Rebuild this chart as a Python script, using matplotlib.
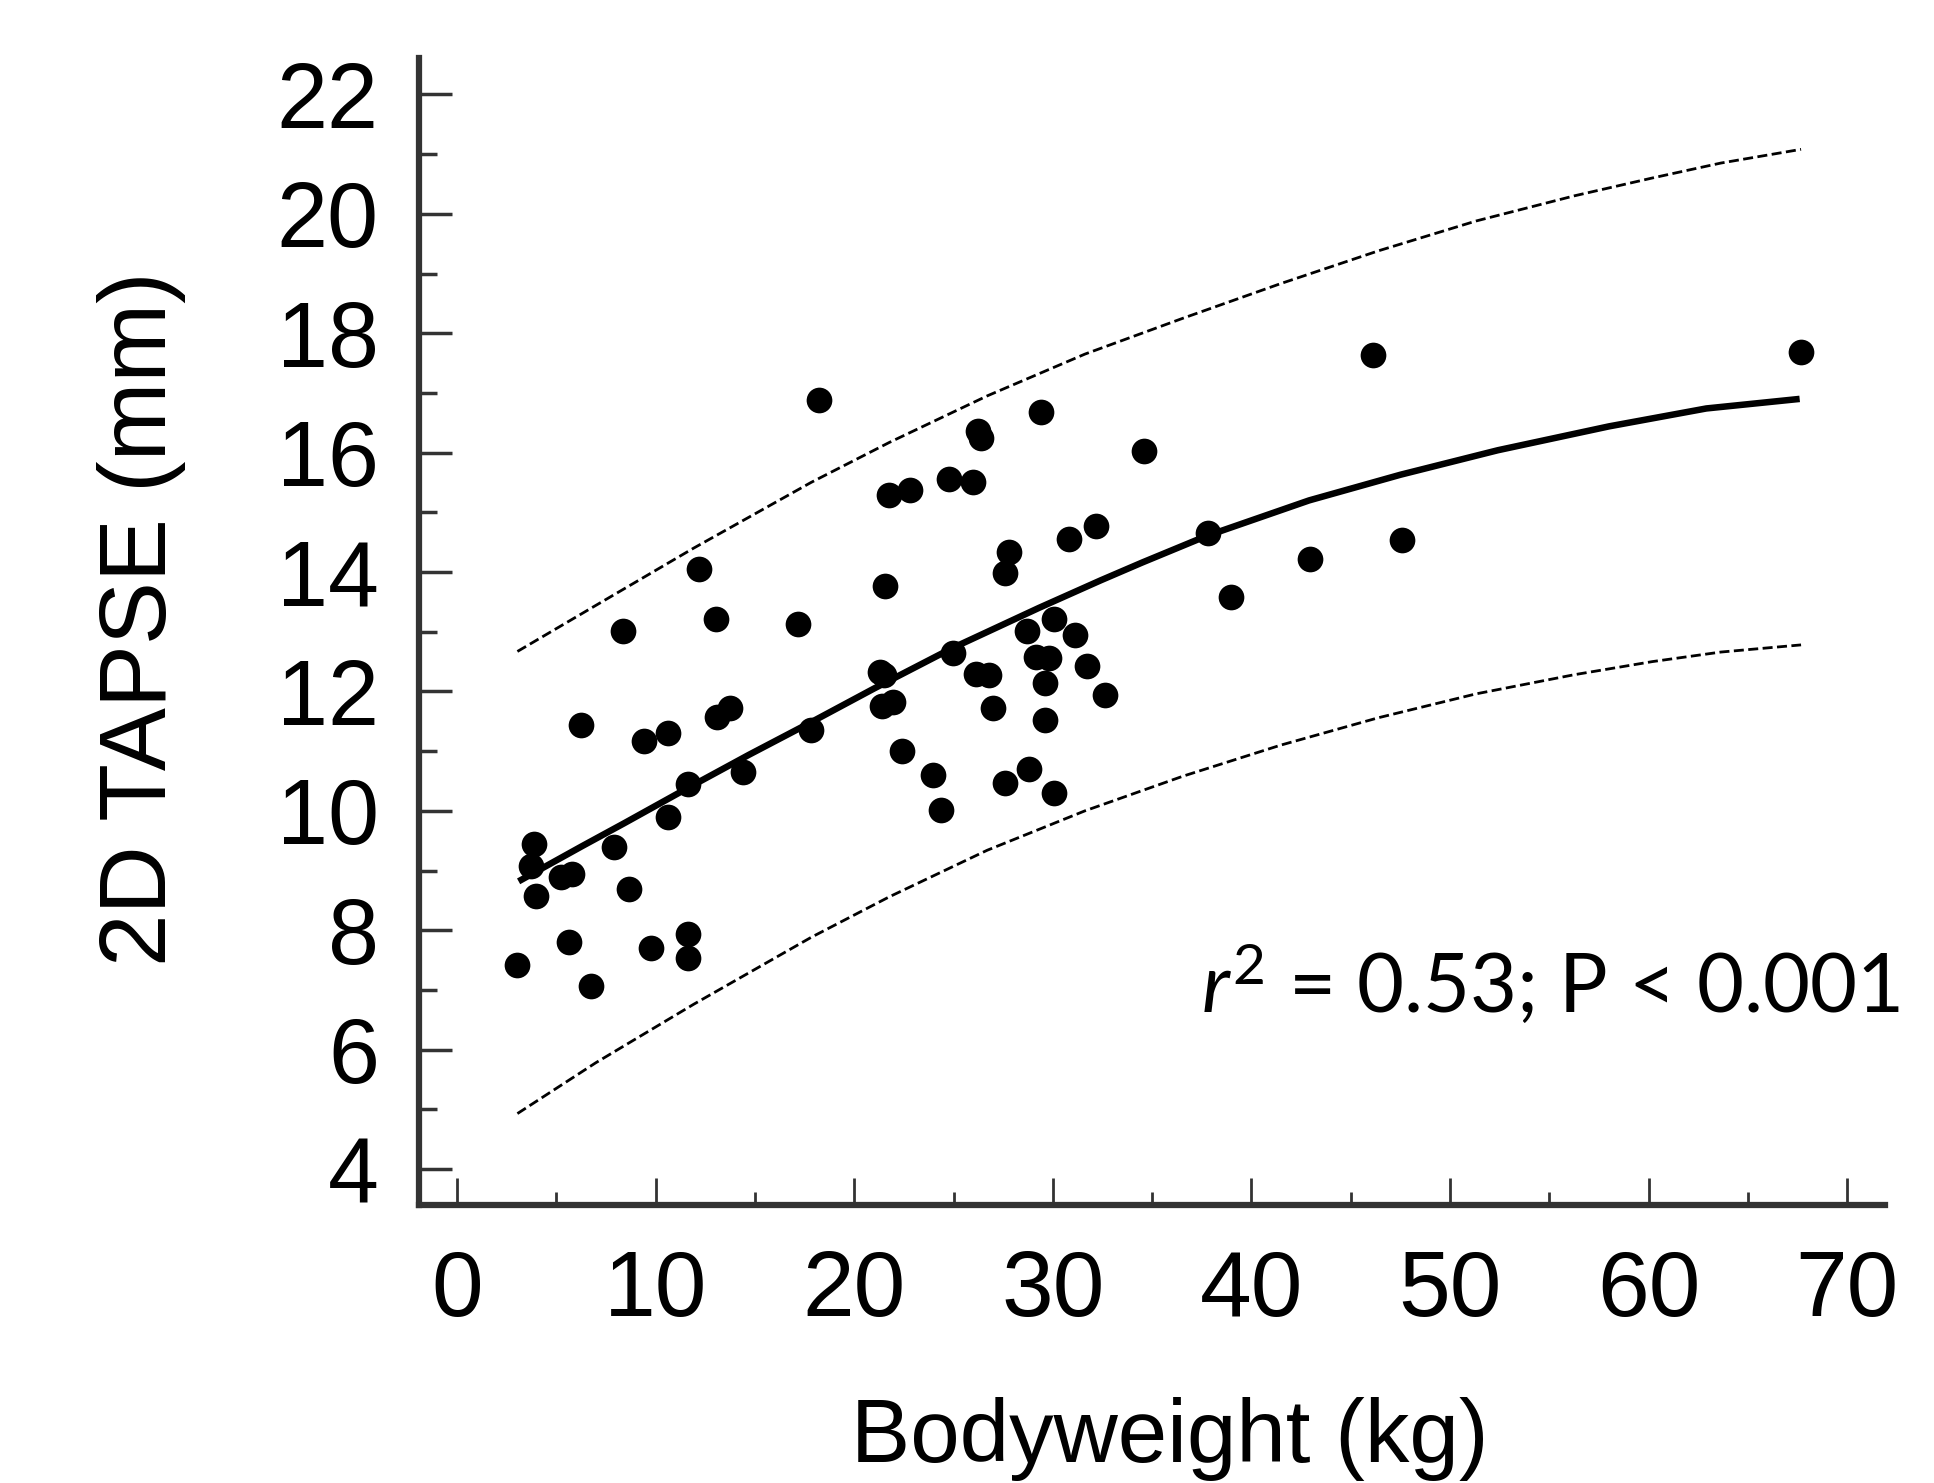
import matplotlib.pyplot as plt
from matplotlib.ticker import MultipleLocator

# bodyweight (kg) and 2D TAPSE (mm)
weight = [3.00, 3.90, 3.74, 3.97, 5.21, 5.81, 5.65, 6.73, 6.24, 7.90, 8.37, 8.65,
          9.41, 9.79, 10.62, 10.62, 11.61, 11.61, 11.61, 12.20, 13.05, 13.07, 13.75,
          14.42, 17.17, 17.84, 18.20, 21.28, 21.50, 21.55, 21.39, 21.95, 21.77, 22.80,
          22.38, 23.97, 24.36, 24.76, 24.99, 25.98, 26.22, 26.38, 26.15, 26.78, 27.01,
          27.57, 27.61, 27.80, 28.70, 28.81, 29.39, 29.14, 29.81, 29.59, 29.59, 30.05,
          30.05, 30.79, 31.10, 31.73, 32.17, 32.60, 34.58, 37.81, 38.98, 42.94, 46.14,
          47.59, 67.67]
tapse = [7.42, 9.44, 9.08, 8.58, 8.90, 8.95, 7.81, 7.07, 11.44, 9.39, 13.01, 8.69,
         11.17, 7.70, 9.90, 11.31, 10.45, 7.94, 7.53, 14.05, 13.21, 11.57, 11.72,
         10.65, 13.13, 11.35, 16.88, 12.32, 12.28, 13.76, 11.76, 11.83, 15.29, 15.38,
         11.01, 10.60, 10.02, 15.56, 12.65, 15.51, 16.36, 16.24, 12.30, 12.28, 11.72,
         10.47, 13.98, 14.34, 13.01, 10.70, 16.68, 12.58, 12.56, 12.15, 11.52, 13.22,
         10.30, 14.56, 12.95, 12.43, 14.77, 11.94, 16.02, 14.65, 13.59, 14.22, 17.64,
         14.54, 17.69]

# regression curve
fit_x = [3.1, 6.3, 8.4, 11.6, 14.7, 17.8, 21.0, 24.9, 29.3, 32.4, 34.5, 37.7,
         42.9, 47.5, 52.4, 58.0, 62.9, 67.6]
fit_y = [8.82, 9.41, 9.79, 10.38, 10.94, 11.48, 12.05, 12.72, 13.40, 13.86, 14.16,
         14.60, 15.20, 15.63, 16.04, 16.44, 16.74, 16.90]

# prediction limits
band_x = [3.04, 6.98, 11.91, 17.82, 21.76, 26.69, 31.61, 36.54, 41.46, 46.39,
          51.31, 56.24, 60.18, 63.63, 67.67]
upper_y = [12.67, 13.44, 14.40, 15.50, 16.17, 16.95, 17.65, 18.25, 18.83, 19.38,
           19.88, 20.30, 20.60, 20.85, 21.08]
lower_y = [4.93, 5.78, 6.76, 7.88, 8.56, 9.34, 10.00, 10.58, 11.10, 11.56,
           11.96, 12.28, 12.50, 12.66, 12.78]

plt.rcParams['font.family'] = ['Liberation Sans', 'DejaVu Sans']
plt.rcParams['mathtext.fontset'] = 'custom'
plt.rcParams['mathtext.rm'] = 'Lato'
plt.rcParams['mathtext.it'] = 'Lato:italic'

fig = plt.figure(figsize=(19.34, 14.83), dpi=100)
ax = fig.add_axes([0.2167, 0.1875, 0.758, 0.7734])

ax.plot(band_x, upper_y, color='black', lw=2, dashes=(3.6, 1.6))
ax.plot(band_x, lower_y, color='black', lw=2, dashes=(3.6, 1.6))
ax.plot(fit_x, fit_y, color='black', lw=4.7, solid_capstyle='butt', solid_joinstyle='round')
ax.plot(weight, tapse, 'o', color='black', markersize=18.5, markeredgewidth=0)

ax.set_xlim(-1.91, 71.9)
ax.set_ylim(3.40, 22.61)
ax.xaxis.set_major_locator(MultipleLocator(10))
ax.xaxis.set_minor_locator(MultipleLocator(5))
ax.yaxis.set_major_locator(MultipleLocator(2))
ax.yaxis.set_minor_locator(MultipleLocator(1))

for side in ['top', 'right']:
    ax.spines[side].set_visible(False)
for side in ['left', 'bottom']:
    ax.spines[side].set_linewidth(4.5)
    ax.spines[side].set_color('#333333')

ax.tick_params(axis='x', which='major', direction='in', length=19.5, width=2,
               colors='#333333', labelcolor='black', labelsize=67, pad=32)
ax.tick_params(axis='x', which='minor', direction='in', length=9.5, width=2,
               colors='#333333')
ax.tick_params(axis='y', which='major', direction='in', length=24, width=2.5,
               colors='#333333', labelcolor='black', labelsize=66, pad=29)
ax.tick_params(axis='y', which='minor', direction='in', length=13, width=2.5,
               colors='#333333')

fig.text(0.073, 0.583, '2D TAPSE (mm)', rotation=90, ha='center', va='center',
         fontsize=68)
fig.text(0.6047, 0.0297, 'Bodyweight (kg)', ha='center', va='center', fontsize=64)

ax.text(37.46, 6.63, r'$r^2$ = 0.53; P < 0.001', fontfamily='Lato', fontsize=58.5,
        ha='left', va='baseline')

fig.savefig('out.png', dpi=100)
